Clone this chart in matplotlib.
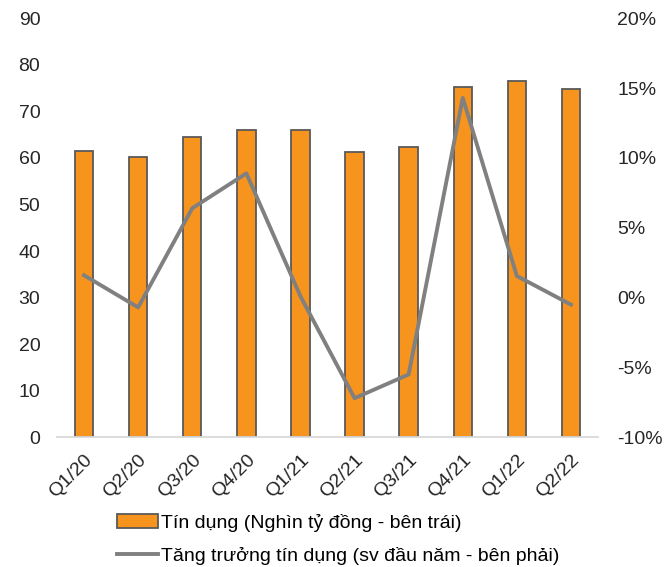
import numpy as np
import matplotlib.pyplot as plt
from matplotlib.ticker import FuncFormatter

plt.rcParams['font.family'] = ['Liberation Sans', 'DejaVu Sans']

quarters = ['Q1/20', 'Q2/20', 'Q3/20', 'Q4/20', 'Q1/21', 'Q2/21', 'Q3/21', 'Q4/21', 'Q1/22', 'Q2/22']
credit = [61.5, 60.3, 64.4, 66.0, 66.0, 61.2, 62.3, 75.3, 76.6, 74.9]          # nghìn tỷ đồng
growth = [1.6, -0.7, 6.4, 8.9, 0.1, -7.2, -5.5, 14.3, 1.55, -0.5]            # % so với đầu năm

x = np.arange(len(quarters))

fig = plt.figure(figsize=(6.69, 5.67), dpi=100)
ax = fig.add_axes([57 / 669, 1 - 437.3 / 567, 541 / 669, 419 / 567])
ax2 = ax.twinx()

bars = ax.bar(x, credit, width=0.34, color='#F7941D', edgecolor='#595959', linewidth=1.3,
              label='Tín dụng (Nghìn tỷ đồng - bên trái)', zorder=2)
line, = ax2.plot(x, growth, color='#808080', linewidth=2.8,
                 label='Tăng trưởng tín dụng (sv đầu năm - bên phải)', zorder=3)

ax.set_xlim(-0.5, len(quarters) - 0.5)
ax.set_ylim(0, 90)
ax.set_yticks(range(0, 91, 10))
ax2.set_ylim(-10, 20)
ax2.set_yticks(range(-10, 21, 5))
ax2.yaxis.set_major_formatter(FuncFormatter(lambda v, p: f'{v:.0f}%'))

ax.set_xticks(x)
ax.set_xticklabels(quarters, rotation=45, ha='right', rotation_mode='anchor')

for a in (ax, ax2):
    for s in a.spines.values():
        s.set_visible(False)
    a.tick_params(length=0, labelsize=14, colors='#262626')
ax.spines['bottom'].set_visible(True)
ax.spines['bottom'].set_color('#D9D9D9')
ax.spines['bottom'].set_linewidth(1.3)
ax.tick_params(axis='y', pad=12)
ax.tick_params(axis='x', pad=10)
ax2.tick_params(axis='y', pad=14)
ax2.patch.set_visible(False)

fig.legend([bars, line], [bars.get_label(), line.get_label()],
           loc='upper left', bbox_to_anchor=(117 / 669, 1 - 514 / 567), frameon=False,
           fontsize=14, handlelength=2.1, handletextpad=0.15, labelspacing=0.75,
           borderaxespad=0, borderpad=0)

fig.savefig('out.png', dpi=100)
